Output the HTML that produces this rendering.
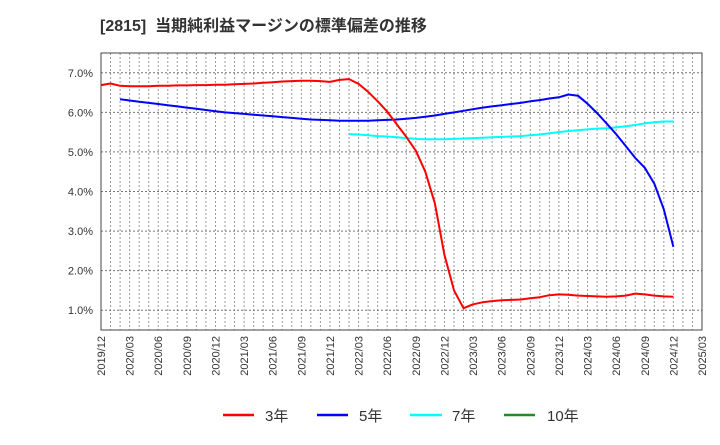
<!DOCTYPE html>
<html><head><meta charset="utf-8"><style>
body{margin:0;background:#fff;}
svg text{font-family:"Liberation Sans","Noto Sans CJK JP",sans-serif;}
</style></head><body>
<svg id="chart" width="720" height="440" xmlns="http://www.w3.org/2000/svg">
<text x="100" y="31" font-size="16" font-weight="bold" fill="#333" xml:space="preserve" style="white-space:pre">[2815]  当期純利益マージンの標準偏差の推移</text>
<g id="grid"></g><g id="axes"></g><g id="series"></g>
<rect x="101" y="53" width="601" height="277" fill="none" stroke="#444" stroke-width="1"/>
<g>
<g><line x1="223" y1="415" x2="254" y2="415" stroke="#ff0000" stroke-width="2.5"/><text x="265" y="421" font-size="15" fill="#333">3年</text></g>
<g><line x1="317" y1="415" x2="348" y2="415" stroke="#0000ff" stroke-width="2.5"/><text x="359" y="421" font-size="15" fill="#333">5年</text></g>
<g><line x1="410" y1="415" x2="442" y2="415" stroke="#00ffff" stroke-width="2.5"/><text x="452" y="421" font-size="15" fill="#333">7年</text></g>
<g><line x1="504" y1="415" x2="535" y2="415" stroke="#228b22" stroke-width="2.5"/><text x="547" y="421" font-size="15" fill="#333">10年</text></g>
</g>
</svg>
<script>
const yTicks=[1,2,3,4,5,6,7];
const xTickLabels=["2019/12","2020/03","2020/06","2020/09","2020/12","2021/03","2021/06","2021/09","2021/12","2022/03","2022/06","2022/09","2022/12","2023/03","2023/06","2023/09","2023/12","2024/03","2024/06","2024/09","2024/12","2025/03"];
const start3=0;
const values3=[6.69,6.73,6.67,6.66,6.66,6.66,6.67,6.67,6.68,6.68,6.69,6.69,6.70,6.70,6.71,6.72,6.73,6.75,6.76,6.78,6.79,6.80,6.80,6.79,6.77,6.82,6.84,6.72,6.52,6.28,6.02,5.70,5.38,5.03,4.50,3.70,2.40,1.50,1.05,1.15,1.20,1.23,1.25,1.26,1.27,1.30,1.33,1.38,1.40,1.39,1.37,1.36,1.35,1.34,1.35,1.37,1.42,1.40,1.37,1.35,1.34];
const start5=2;
const values5=[6.33,6.30,6.27,6.24,6.21,6.18,6.15,6.12,6.09,6.06,6.03,6.00,5.98,5.96,5.94,5.92,5.90,5.88,5.86,5.84,5.82,5.81,5.80,5.79,5.79,5.79,5.79,5.80,5.81,5.82,5.84,5.86,5.89,5.92,5.96,6.00,6.04,6.08,6.12,6.15,6.18,6.21,6.24,6.28,6.31,6.35,6.38,6.45,6.42,6.22,5.98,5.72,5.45,5.15,4.85,4.60,4.20,3.55,2.60];
const start7=26;
const values7=[5.45,5.44,5.42,5.40,5.39,5.37,5.35,5.33,5.32,5.32,5.32,5.33,5.34,5.35,5.36,5.37,5.38,5.39,5.40,5.42,5.44,5.47,5.50,5.53,5.55,5.57,5.59,5.60,5.62,5.65,5.68,5.72,5.75,5.77,5.77];
const NS="http://www.w3.org/2000/svg";
const L=101,R=702,T=53,B=330,YMIN=0.5,YMAX=7.5,MONTHS=63;
const xS=m=>L+m*(R-L)/MONTHS;
const yS=v=>B-(v-YMIN)*(B-T)/(YMAX-YMIN);
const grid=document.getElementById('grid'),axes=document.getElementById('axes'),ser=document.getElementById('series');
function mk(tag,attrs,parent){const e=document.createElementNS(NS,tag);for(const k in attrs)e.setAttribute(k,attrs[k]);parent.appendChild(e);return e;}
for(let m=1;m<MONTHS;m++){
  const g=mk('line',{x1:xS(m),x2:xS(m),y1:T,y2:B,stroke:'#999','stroke-dasharray':'2,2','stroke-width':1},grid);
  
  
}
yTicks.forEach(v=>{
  const g=mk('line',{x1:L,x2:R,y1:yS(v),y2:yS(v),stroke:'#777','stroke-dasharray':'2,2','stroke-width':1},grid);
  
  
  const t=mk('text',{x:L-8,y:yS(v)+4,'text-anchor':'end','font-size':11,fill:'#333'},axes);
  t.textContent=v.toFixed(1)+'%';
  
  
});
xTickLabels.forEach((s,i)=>{
  const x=xS(i*3);
  const t=mk('text',{x:x+4,y:336,'text-anchor':'end','font-size':11,fill:'#333',transform:`rotate(-90 ${x+4} 336)`},axes);
  t.textContent=s;
  
  
});
function line(vals,start,color,name){
  const d=vals.map((v,i)=>(i?'L':'M')+xS(start+i).toFixed(1)+','+yS(v).toFixed(1)).join(' ');
  const p=mk('path',{d:d,fill:'none',stroke:color,'stroke-width':2,'stroke-linejoin':'round'},ser);
  
  
}
line(values7,start7,'#00ffff','series-7y-line');
line(values5,start5,'#0000ff','series-5y-line');
line(values3,start3,'#ff0000','series-3y-line');
</script>
</body></html>
